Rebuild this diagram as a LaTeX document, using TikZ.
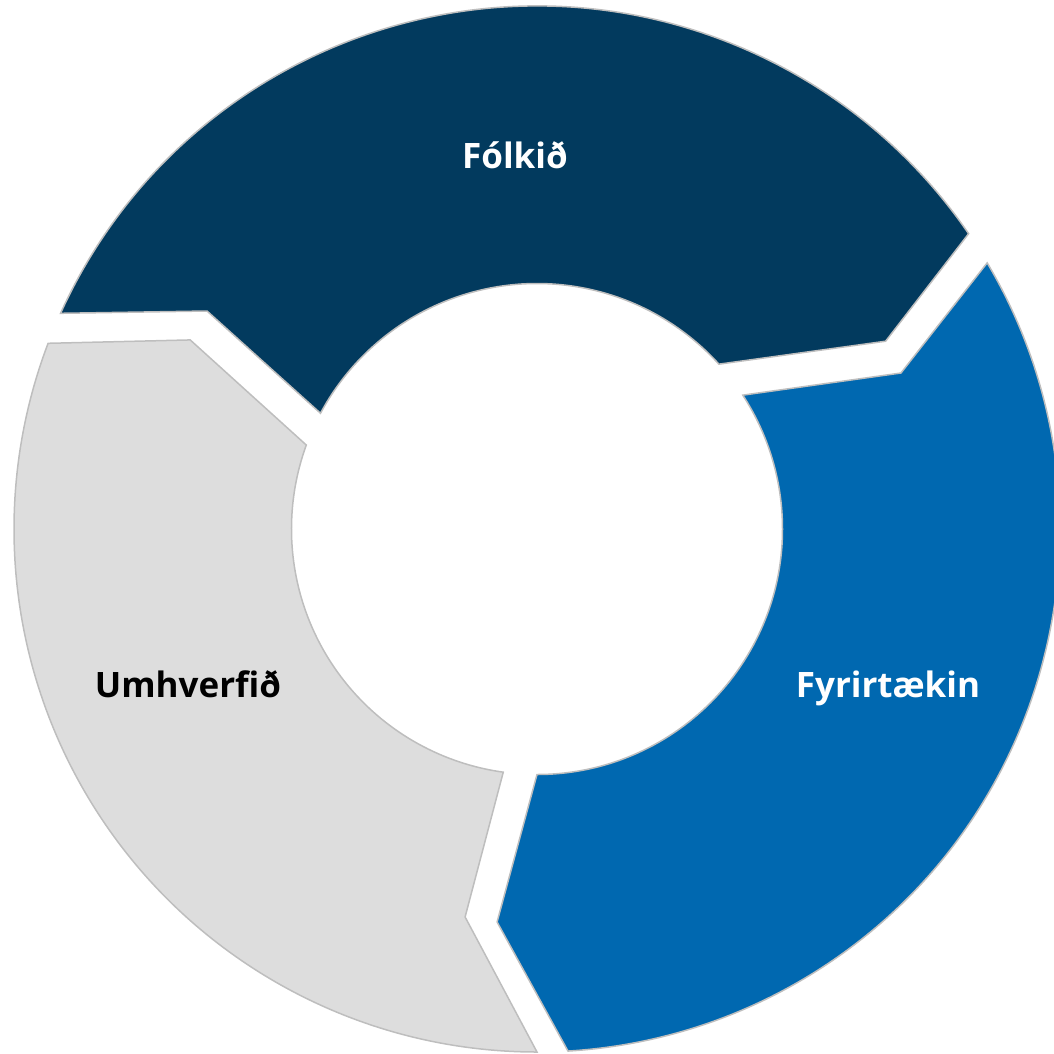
\documentclass[tikz,border=0pt]{standalone}
\usepackage{fontspec}
\setmainfont{Open Sans}
\definecolor{navy}{RGB}{2,58,94}
\definecolor{midblue}{RGB}{0,104,176}
\definecolor{lightgray}{RGB}{221,221,221}
\definecolor{edgegray}{RGB}{190,190,190}
\begin{document}
\begin{tikzpicture}[x=1pt,y=1pt,
  segment/.style={draw=edgegray,line width=1.5pt,line join=miter},
  label/.style={font=\fontsize{35}{40}\selectfont\bfseries,anchor=base,inner sep=0pt}]
\useasboundingbox (-537,-524) rectangle (517,529);
% top segment
\path[segment,fill=navy] (155.64:523) arc[start angle=155.64,end angle=34.38,radius=523]
  -- (28.31:396) -- (42.18:245.5) arc[start angle=42.18,end angle=151.87,radius=245.5]
  -- (146.55:395.5) -- cycle;
% right segment
\path[segment,fill=midblue] (30.59:523) arc[start angle=30.59,end angle=-86.6,radius=523]
  -- (-95.8:395) -- (-90:245.5) arc[start angle=-90,end angle=33.04,radius=245.5]
  -- (23.2:396) -- cycle;
% left segment
\path[segment,fill=lightgray] (270:523) arc[start angle=270,end angle=159.2,radius=523]
  -- (151.4:395) -- (160:245.5) arc[start angle=160,end angle=262.1,radius=245.5]
  -- (259.5:394.6) -- cycle;
\node[label,text=white] (folkid) at (-22,360) {Fólkið};
\node[label,text=white] (fyrirtaekin) at (351,-168) {Fyrirtækin};
\node[label,text=black] (umhverfid) at (-349,-168) {Umhverfið};
\end{tikzpicture}
\end{document}
